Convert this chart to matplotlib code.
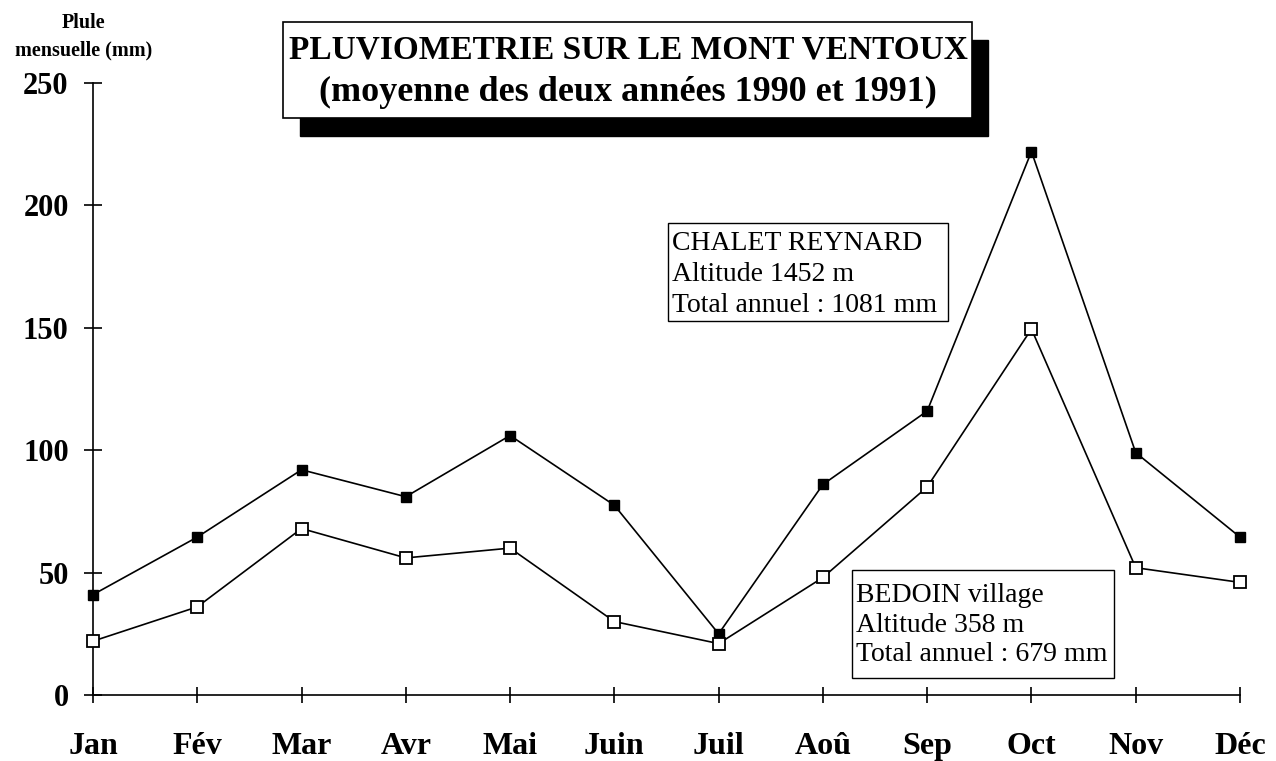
import matplotlib
matplotlib.use("Agg")
import matplotlib.pyplot as plt
from matplotlib.patches import Rectangle

# Monthly rainfall (mm), mean of 1990 and 1991
months = ["Jan", "Fév", "Mar", "Avr", "Mai", "Juin", "Juil", "Aoû", "Sep", "Oct", "Nov", "Déc"]
chalet_reynard = [41, 64.5, 92, 81, 106, 77.5, 25, 86, 116, 222, 99, 64.5]
bedoin_village = [22, 36, 68, 56, 60, 30, 21, 48, 85, 149.5, 52, 46]
y_ticks = [0, 50, 100, 150, 200, 250]

title_lines = ["PLUVIOMETRIE SUR LE MONT VENTOUX", "(moyenne des deux années 1990 et 1991)"]
chalet_lines = ["CHALET REYNARD", "Altitude 1452 m", "Total annuel : 1081 mm"]
bedoin_lines = ["BEDOIN village", "Altitude 358 m", "Total annuel : 679 mm"]

SERIF = ["Liberation Serif", "DejaVu Serif"]
W, H = 1276, 761

fig = plt.figure(figsize=(W / 100, H / 100), dpi=100)
fig.patch.set_facecolor("white")

ax = fig.add_axes([93 / W, 1 - 695 / H, (1240 - 93) / W, (695 - 83) / H])
x = list(range(len(months)))

ax.plot(x, chalet_reynard, color="black", lw=1.2, marker="s", markersize=7.5,
        markerfacecolor="black", markeredgecolor="black", clip_on=False, zorder=3)
ax.plot(x, bedoin_village, color="black", lw=1.2, marker="s", markersize=9,
        markerfacecolor="white", markeredgecolor="black", markeredgewidth=1.3,
        clip_on=False, zorder=4)

ax.set_xlim(0, len(months) - 1)
ax.set_ylim(0, 250)
ax.set_xticks(x)
ax.set_xticklabels(months)
ax.set_yticks(y_ticks)
ax.set_yticklabels([str(v) for v in y_ticks])

for side in ("top", "right"):
    ax.spines[side].set_visible(False)
for side in ("left", "bottom"):
    ax.spines[side].set_linewidth(1.2)

ax.tick_params(axis="y", direction="inout", length=13, width=1.2, pad=11)
ax.tick_params(axis="x", direction="inout", length=11, width=1.2, pad=21)
for lab in ax.get_xticklabels():
    lab.set_fontfamily(SERIF)
    lab.set_fontweight("bold")
    lab.set_fontsize(23)
for lab in ax.get_yticklabels():
    lab.set_fontfamily(SERIF)
    lab.set_fontweight("bold")
    lab.set_fontsize(22)

# Overlay in pixel coordinates for the annotation boxes
ov = fig.add_axes([0, 0, 1, 1], zorder=5)
ov.set_xlim(0, W)
ov.set_ylim(H, 0)
ov.axis("off")
ov.patch.set_alpha(0)

# Y-axis caption
ov.text(84, 23, "Plule", ha="center", va="center", fontsize=14.5,
        fontweight="bold", family=SERIF)
ov.text(84, 50, "mensuelle (mm)", ha="center", va="center", fontsize=14.5,
        fontweight="bold", family=SERIF)

# Title box with drop shadow
ov.add_patch(Rectangle((300, 40), 688, 96, facecolor="black", edgecolor="black"))
ov.add_patch(Rectangle((283, 22), 689, 96, facecolor="white", edgecolor="black", lw=1.2))
ov.text(628, 50, title_lines[0], ha="center", va="center", fontsize=24,
        fontweight="bold", family=SERIF)
ov.text(628, 92, title_lines[1], ha="center", va="center", fontsize=26,
        fontweight="bold", family=SERIF)

# Station boxes
def station_box(x0, y0, w, h, lines, first_baseline, step):
    ov.add_patch(Rectangle((x0, y0), w, h, facecolor="white", edgecolor="black", lw=1.0))
    for i, s in enumerate(lines):
        ov.text(x0 + 4, first_baseline + i * step, s, ha="left", va="baseline",
                fontsize=20, family=SERIF)

station_box(668, 223, 280, 98, chalet_lines, 250, 31)
station_box(852, 570, 262, 108, bedoin_lines, 602, 29.5)

fig.savefig("out.png", dpi=100, facecolor="white")
